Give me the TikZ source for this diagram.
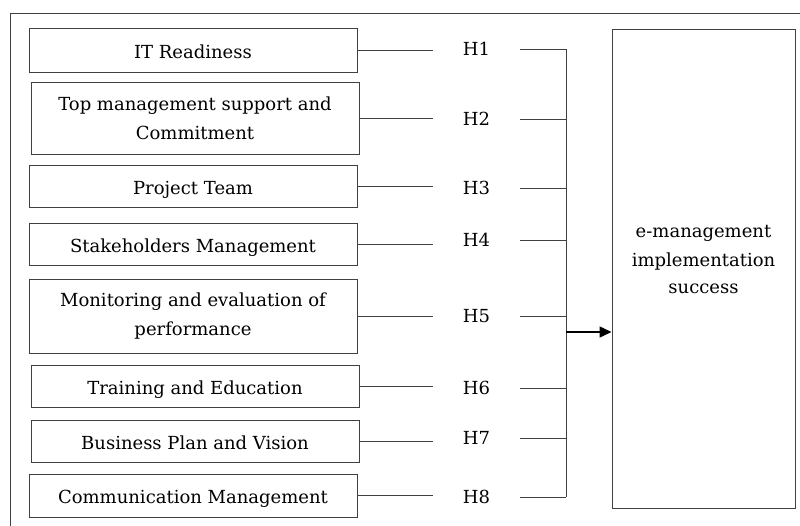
\documentclass[tikz,border=0pt]{standalone}
\usepackage{fontspec}
\setmainfont{DejaVu Serif}
\usetikzlibrary{arrows.meta}
\begin{document}
\begin{tikzpicture}[x=1pt,y=-1pt,
  every node/.style={inner sep=0pt},
  boxbase/.style={draw=black!75, line width=1pt, minimum width=328pt},
  factor/.style={boxbase, font=\fontsize{18}{29}\selectfont,
    text height=16.5pt, text depth=0pt},
  factortwo/.style={boxbase, align=center, font=\fontsize{18}{29}\selectfont},
  hyp/.style={minimum width=87pt, font=\fontsize{18}{22}\selectfont},
  link/.style={draw=black!75, line width=1pt},
  outcome/.style={draw=black!75, line width=1pt, minimum width=183pt,
    minimum height=479pt},
  outtext/.style={align=center, font=\fontsize{18}{28}\selectfont}]
\useasboundingbox (0,0) rectangle (800,525);
\begin{scope}
  \clip (0,0) rectangle (800,525);
  \draw[link] (10,540) -- (10,13) -- (810,13);
\end{scope}

% factor boxes
\node[factor,    minimum height=44pt] (f1) at (193,50)    {IT Readiness};
\node[factortwo, minimum height=72pt] (f2) at (195,118)   {Top management support and\\Commitment};
\node[factor,    minimum height=42pt] (f3) at (193,186)   {Project Team};
\node[factor,    minimum height=42pt] (f4) at (193,244)   {Stakeholders Management};
\node[factortwo, minimum height=74pt] (f5) at (193,316)   {Monitoring and evaluation of\\performance};
\node[factor,    minimum height=42pt] (f6) at (195,386)   {Training and Education};
\node[factor,    minimum height=42pt] (f7) at (195,441)   {Business Plan and Vision};
\node[factor,    minimum height=43pt] (f8) at (193,495.5) {Communication Management};

% hypothesis labels
\node[hyp] (h1) at (476.5,49)    {H1};
\node[hyp] (h2) at (476.5,119)   {H2};
\node[hyp] (h3) at (476.5,188)   {H3};
\node[hyp] (h4) at (476.5,240)   {H4};
\node[hyp] (h5) at (476.5,316)   {H5};
\node[hyp] (h6) at (476.5,388)   {H6};
\node[hyp] (h7) at (476.5,438)   {H7};
\node[hyp] (h8) at (476.5,497)   {H8};

% outcome box and its text
\node[outcome] (out) at (703.5,268.5) {};
\node[outtext] (outlabel) at (703.5,260) {e-management\\implementation\\success};

% bus and junction
\coordinate (bus) at (566,0);
\coordinate (j) at (566,332);

\foreach \i in {1,...,8} {
  \draw[link] (f\i.east) -- (f\i.east -| h\i.west);
  \draw[link] (h\i.east) -- (h\i.east -| bus);
}
\draw[link] (h1.east -| bus) -- (h8.east -| bus);
\draw[draw=black, line width=1.6pt, -{Triangle[length=12pt,width=11pt]}] (j) -- (j -| out.west);
\end{tikzpicture}
\end{document}
